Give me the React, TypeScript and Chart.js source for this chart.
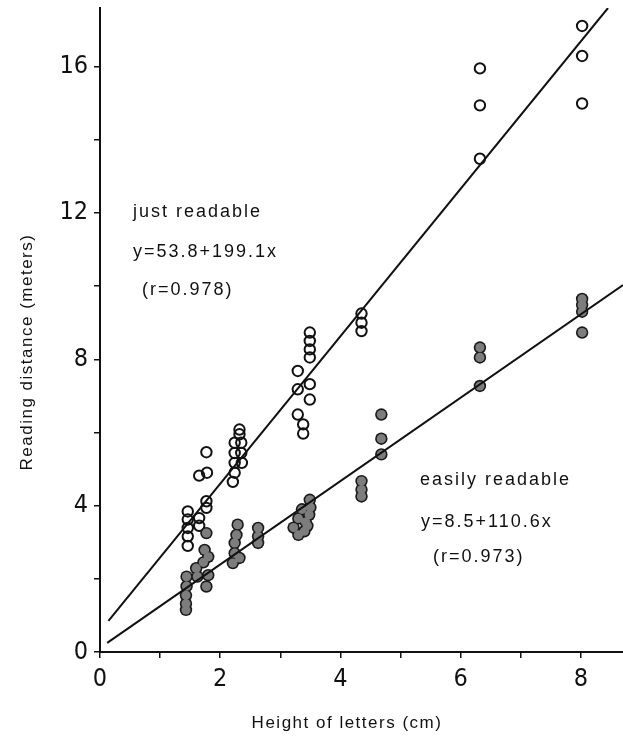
import React, { useEffect, useRef } from 'react';
import { Chart, registerables } from 'chart.js';

Chart.register(...registerables);

// "just readable" observations (open circles)
const justReadableX = [
  1.46, 1.46, 1.46, 1.46, 1.46,
  1.65, 1.65, 1.65,
  1.77, 1.78, 1.77, 1.77,
  2.32, 2.32, 2.24, 2.35, 2.24, 2.35, 2.24, 2.36, 2.24, 2.21,
  3.29, 3.29, 3.29, 3.38, 3.38,
  3.49, 3.49, 3.49, 3.49, 3.49, 3.49,
  4.35, 4.35, 4.35,
  6.32, 6.32, 6.32,
  8.02, 8.02, 8.02,
];
const justReadableY = [
  3.84, 3.62, 3.39, 3.16, 2.9,
  3.66, 3.45, 4.82,
  5.46, 4.9, 4.12, 3.94,
  6.08, 5.95, 5.72, 5.72, 5.44, 5.44, 5.17, 5.17, 4.9, 4.65,
  7.68, 7.18, 6.49, 6.22, 5.97,
  8.73, 8.5, 8.27, 8.05, 7.32, 6.9,
  9.25, 9.0, 8.77,
  15.95, 14.94, 13.48,
  17.11, 16.29, 14.99,
];

// "easily readable" observations (grey filled circles)
const easilyReadableX = [
  1.44, 1.44, 1.43, 1.43, 1.43,
  1.77, 1.74, 1.8, 1.72, 1.6, 1.62, 1.8, 1.77,
  2.29, 2.27, 2.24, 2.24, 2.32, 2.21,
  2.63, 2.63, 2.63,
  3.22, 3.3, 3.36, 3.42, 3.48, 3.4, 3.5, 3.3, 3.45, 3.49,
  4.35, 4.35, 4.35,
  4.68, 4.68, 4.68,
  6.32, 6.32, 6.32,
  8.02, 8.02, 8.02, 8.02,
];
const easilyReadableY = [
  2.06, 1.8, 1.55, 1.32, 1.15,
  3.25, 2.79, 2.6, 2.45, 2.29, 2.06, 2.1, 1.79,
  3.48, 3.2, 2.98, 2.7, 2.57, 2.43,
  3.39, 3.16, 2.98,
  3.4, 3.65, 3.9, 3.55, 3.75, 3.3, 3.95, 3.2, 3.45, 4.16,
  4.67, 4.44, 4.25,
  6.49, 5.83, 5.4,
  8.32, 8.05, 7.27,
  9.65, 9.48, 9.3, 8.73,
];

// fitted regression lines (end points)
const justFitX = [0.14, 8.45];
const justFitY = [0.85, 17.6];
const easyFitX = [0.12, 8.7];
const easyFitY = [0.25, 10.03];

// axis labels
const xLabeledTicks = [0, 2, 4, 6, 8];
const yLabeledTicks = [0, 4, 8, 12, 16];
const xTitle = 'Height of letters (cm)';
const yTitle = 'Reading distance (meters)';
const justText = ['just readable', 'y=53.8+199.1x', '(r=0.978)'];
const easyText = ['easily readable', 'y=8.5+110.6x', '(r=0.973)'];

const toPoints = (xs: number[], ys: number[]) => xs.map((x, i) => ({ x, y: ys[i] }));

const tickFont = "'Liberation Sans Narrow', 'DejaVu Sans Condensed', 'Liberation Sans', sans-serif";
const textFont = "'Liberation Sans', Arial, sans-serif";

const textPlugin = {
  id: 'figureTexts',
  afterDraw(chart: any) {
    const ctx = chart.ctx as CanvasRenderingContext2D;
    ctx.save();
    ctx.fillStyle = '#111';
    ctx.textBaseline = 'middle';
    ctx.textAlign = 'left';
    (ctx as any).letterSpacing = '2px';
    ctx.font = `18px ${textFont}`;
    const jp = [[133, 212], [133, 252], [142, 290]];
    justText.forEach((t, i) => ctx.fillText(t, jp[i][0], jp[i][1]));
    const ep = [[420, 480], [421, 522], [433, 557]];
    easyText.forEach((t, i) => ctx.fillText(t, ep[i][0], ep[i][1]));

    (ctx as any).letterSpacing = '1.5px';
    ctx.font = `17px ${textFont}`;
    ctx.textAlign = 'center';
    ctx.fillText(xTitle, 347, 723);
    ctx.translate(27, 352);
    ctx.rotate(-Math.PI / 2);
    ctx.fillText(yTitle, 0, 0);
    ctx.restore();
  },
};

export default function App() {
  const ref = useRef<HTMLCanvasElement | null>(null);

  useEffect(() => {
    if (!ref.current) return;
    const chart = new Chart(ref.current, {
      type: 'scatter',
      data: {
        datasets: [
          {
            type: 'line',
            data: toPoints(justFitX, justFitY),
            showLine: true,
            borderColor: '#111',
            borderWidth: 2,
            pointRadius: 0,
            order: 0,
          } as any,
          {
            type: 'line',
            data: toPoints(easyFitX, easyFitY),
            showLine: true,
            borderColor: '#111',
            borderWidth: 2,
            pointRadius: 0,
            order: 0,
          } as any,
          {
            data: toPoints(easilyReadableX, easilyReadableY),
            pointRadius: 4.6,
            pointBackgroundColor: '#7d7d7d',
            pointBorderWidth: 0,
            order: 1,
          },
          {
            data: toPoints(easilyReadableX, easilyReadableY),
            pointRadius: 6.2,
            pointBackgroundColor: '#1a1a1a',
            pointBorderWidth: 0,
            order: 2,
          },
          {
            data: toPoints(justReadableX, justReadableY),
            pointRadius: 5.2,
            pointBackgroundColor: 'rgba(255,255,255,0)',
            pointBorderColor: '#111',
            pointBorderWidth: 2,
            order: 3,
          },
        ],
      },
      options: {
        animation: false,
        responsive: false,
        layout: { autoPadding: false, padding: { top: 8, left: 0, right: 0, bottom: 0 } },
        plugins: { legend: { display: false }, tooltip: { enabled: false } },
        scales: {
          x: {
            type: 'linear',
            min: 0,
            max: 8.7,
            afterFit: (s: any) => {
              s.height = 87;
              s.paddingLeft = 0;
              s.paddingRight = 0;
            },
            border: { color: '#111', width: 2 },
            grid: { drawOnChartArea: false, drawTicks: true, tickLength: 6, color: '#111', lineWidth: 1.5 },
            ticks: {
              stepSize: 1,
              includeBounds: false,
              autoSkip: false,
              maxRotation: 0,
              padding: 6,
              color: '#111',
              font: { size: 25, family: tickFont },
              callback: (v: any) => (xLabeledTicks.includes(Number(v)) ? String(v) : ''),
            },
          },
          y: {
            type: 'linear',
            min: 0,
            max: 17.6,
            afterFit: (s: any) => {
              s.width = 100;
              s.paddingTop = 0;
              s.paddingBottom = 0;
            },
            border: { color: '#111', width: 2 },
            grid: { drawOnChartArea: false, drawTicks: true, tickLength: 6, color: '#111', lineWidth: 1.5 },
            ticks: {
              stepSize: 2,
              includeBounds: false,
              autoSkip: false,
              padding: 6,
              color: '#111',
              font: { size: 25, family: tickFont },
              callback: (v: any) => (yLabeledTicks.includes(Number(v)) ? String(v) : ''),
            },
          },
        },
      },
      plugins: [textPlugin],
    } as any);
    return () => chart.destroy();
  }, []);

  return (
    <div style={{ position: 'absolute', left: 0, top: 0, width: 623, height: 739, background: '#fff' }}>
      <canvas ref={ref} width={623} height={739} style={{ display: 'block' }} />
    </div>
  );
}
